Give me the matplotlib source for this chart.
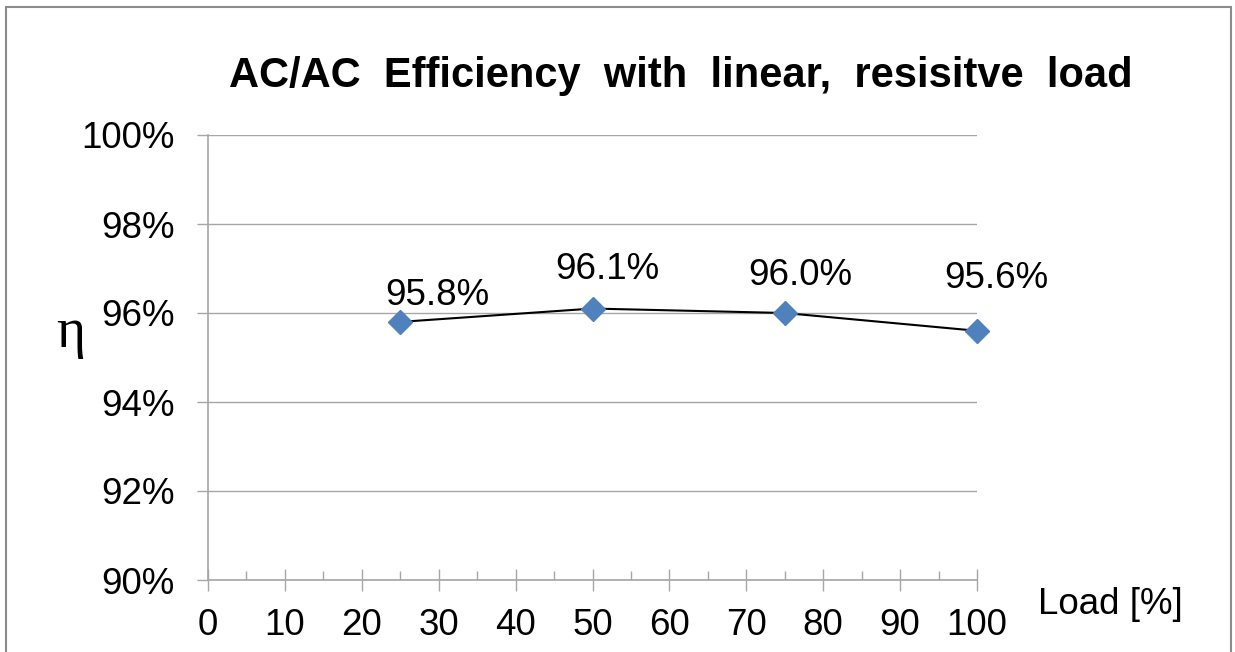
import matplotlib
matplotlib.use("Agg")
import matplotlib.pyplot as plt
from matplotlib.patches import Rectangle
from matplotlib.ticker import MultipleLocator, FuncFormatter

# Data
load = [25, 50, 75, 100]
efficiency = [95.8, 96.1, 96.0, 95.6]
labels = ["95.8%", "96.1%", "96.0%", "95.6%"]
title = "AC/AC  Efficiency  with  linear,  resisitve  load"
xlabel = "Load [%]"
ylabel = "\u03b7"

# label offsets in pixels (dx, dy) from each point
label_offsets = [(37, 17), (15, 30), (16, 28), (19, 43)]

W, H = 1235, 652
fig = plt.figure(figsize=(W / 100, H / 100), dpi=100)
plt.rcParams['font.family'] = ['Liberation Sans', 'DejaVu Sans']

ax = fig.add_axes([208 / W, (H - 580) / H, (977 - 208) / W, (580 - 135) / H])

grid_c = "#A6A6A6"
ax.plot(load, efficiency, color="black", lw=1.5, marker="D", ms=12,
        markerfacecolor="#4F81BD", markeredgecolor="#4F81BD", zorder=3,
        clip_on=False)

for x, y, s, (dx, dy) in zip(load, efficiency, labels, label_offsets):
    ax.annotate(s, (x, y), xytext=(dx, dy), textcoords="offset pixels",
                ha="center", va="baseline", fontsize=26.5, color="black")

ax.set_xlim(0, 100)
ax.set_ylim(90, 100)
ax.xaxis.set_major_locator(MultipleLocator(10))
ax.xaxis.set_minor_locator(MultipleLocator(5))
ax.yaxis.set_major_locator(MultipleLocator(2))
ax.yaxis.set_major_formatter(FuncFormatter(lambda v, p: f"{v:.0f}%"))

ax.grid(axis="y", color=grid_c, lw=1)
ax.set_axisbelow(True)
for sp in ["top", "right"]:
    ax.spines[sp].set_visible(False)
for sp in ["left", "bottom"]:
    ax.spines[sp].set_color(grid_c)
    ax.spines[sp].set_linewidth(1.2)

ax.tick_params(axis="x", which="major", direction="inout", length=16,
               width=1, color=grid_c, labelsize=26.5, pad=12)
ax.tick_params(axis="x", which="minor", direction="in", length=6.5,
               width=1, color=grid_c)
ax.tick_params(axis="y", which="major", direction="out", length=8,
               width=1, color=grid_c, labelsize=26.5, pad=16)

fig.text(681 / W, 1 - 87 / H, title, ha="center", va="baseline",
         fontsize=30, fontweight="bold")
fig.text(1110 / W, 1 - 614 / H, xlabel, ha="center", va="baseline", fontsize=26.5)
fig.text(71 / W, 1 - 347 / H, ylabel, ha="center", va="baseline", fontsize=40,
         family=["Liberation Serif", "DejaVu Serif"])

fig.patches.append(Rectangle((6 / W, -0.05), (1231 - 6) / W, (H - 7) / H + 0.05,
                             transform=fig.transFigure, fill=False,
                             edgecolor="#8C8C8C", lw=1.5))

fig.savefig("out.png", dpi=100)
